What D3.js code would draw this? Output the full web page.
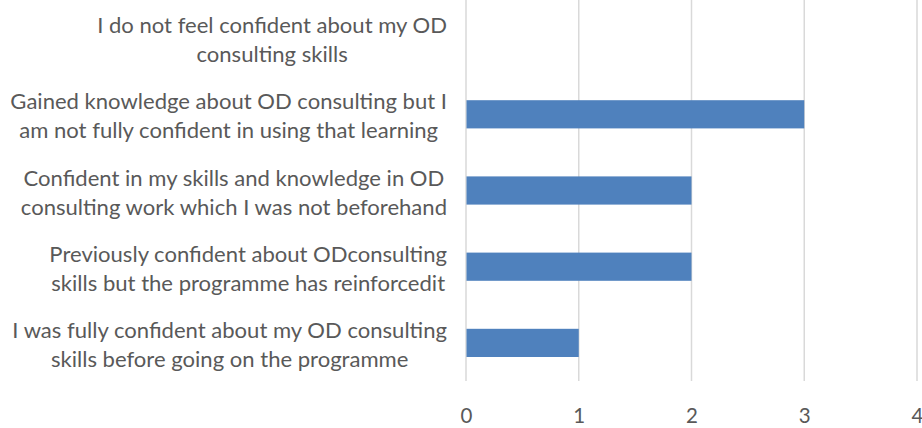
<!DOCTYPE html>
<html><head><meta charset="utf-8">
<script src="https://cdn.jsdelivr.net/npm/d3@7"></script>
<style>body{margin:0;background:#fff}svg{display:block}</style>
</head><body>
<svg id="chart" width="922" height="428"></svg>
<script>
const categories = [
  ["I do not feel confident about my OD", "consulting skills"],
  ["Gained knowledge about OD consulting but I", "am not fully confident in using that learning"],
  ["Confident in my skills and knowledge in OD", "consulting work which I was not beforehand"],
  ["Previously confident about ODconsulting", "skills but the programme has reinforcedit"],
  ["I was fully confident about my OD consulting", "skills before going on the programme"]
];
const values = [0, 3, 2, 2, 1];
const xTicks = [0, 1, 2, 3, 4];

(function () {
const svg = d3.select("#chart");
const font = "Lato, 'Open Sans', sans-serif";
const textColor = "#595959";
const pLeft = 466, pRight = 917, pTop = 0, pBottom = 381;

const x = d3.scaleLinear().domain([0, 4]).range([pLeft, pRight]);
const y = d3.scaleBand().domain(d3.range(categories.length)).range([pTop, pBottom]).paddingInner(0.63).paddingOuter(0.315);

svg.append("g").selectAll("line").data(xTicks).join("line")
  .attr("x1", d => x(d)).attr("x2", d => x(d))
  .attr("y1", pTop).attr("y2", pBottom)
  .attr("stroke", "#d9d9d9").attr("stroke-width", 1.5);

svg.append("g").selectAll("rect").data(values).join("rect")
  .attr("x", x(0) + 0.5)
  .attr("y", (d, i) => y(i))
  .attr("width", d => Math.max(0, x(d) - x(0) - 0.5))
  .attr("height", y.bandwidth())
  .attr("fill", "#4f81bd");

const xAxis = d3.axisBottom(x).tickValues(xTicks).tickFormat(d3.format("d")).tickSize(0).tickPadding(0);
const gx = svg.append("g").attr("transform", `translate(0,${pBottom})`).call(xAxis);
gx.select(".domain").remove();
gx.selectAll("text").attr("dy", null).attr("y", 42)
  .attr("font-family", font).attr("font-size", 20.5).attr("fill", textColor);

// choose font size so the widest label line is ~437px wide like the reference
const probe = svg.append("text").attr("font-family", font).attr("font-size", 20)
  .text(categories[1][0]);
const fontSize = 20 * 437 / probe.node().getComputedTextLength();
probe.remove();

const labelRight = 447;
const band = (pBottom - pTop) / categories.length;
const g = svg.append("g");
categories.forEach((lines, i) => {
  const cy = pTop + band * (i + 0.5) + 1;
  const texts = lines.map((ln, j) => g.append("text")
    .attr("font-family", font).attr("font-size", fontSize).attr("fill", textColor)
    .attr("text-anchor", "middle").attr("dominant-baseline", "central")
    .attr("y", cy + (j - (lines.length - 1) / 2) * 29)
    .text(ln));
  const maxW = d3.max(texts, t => t.node().getComputedTextLength());
  texts.forEach(t => t.attr("x", labelRight - maxW / 2));
});
})();
</script>
</body></html>
